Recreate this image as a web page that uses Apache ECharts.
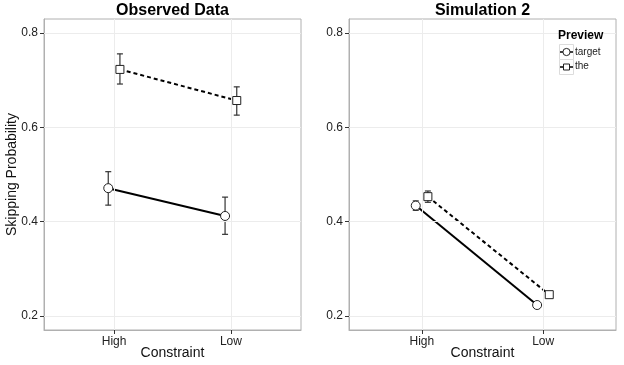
<!DOCTYPE html>
<html><head><meta charset="utf-8">
<script src="https://cdn.jsdelivr.net/npm/echarts@6/dist/echarts.min.js"></script>
<style>html,body{margin:0;padding:0;background:#fff}#c{width:624px;height:365px}</style>
</head><body><div id="c"></div>
<script>
// ---- data ----
const categories = ['High', 'Low'];
const previewNames = ['target', 'the'];
const yTicks = [0.2, 0.4, 0.6, 0.8];
const panelTitles = ['Observed Data', 'Simulation 2'];

// Observed data
const obsTargetMean = [0.471, 0.412];
const obsTargetLo   = [0.435, 0.373];
const obsTargetHi   = [0.506, 0.452];
const obsTheMean    = [0.723, 0.657];
const obsTheLo      = [0.692, 0.626];
const obsTheHi      = [0.756, 0.686];

// Simulation 2
const simTargetMean = [0.434, 0.223];
const simTargetLo   = [0.424, 0.220];
const simTargetHi   = [0.444, 0.226];
const simTheMean    = [0.453, 0.245];
const simTheLo      = [0.441, 0.242];
const simTheHi      = [0.465, 0.248];

// ---- layout/style ----
const DODGE = 0.05;
const FONT = '"Liberation Sans", Arial, sans-serif';
const grids = [
  {left: 44, top: 19, width: 257, height: 311},
  {left: 349, top: 19, width: 267, height: 311}
];

const panels = [
  {target: [obsTargetMean, obsTargetLo, obsTargetHi], the: [obsTheMean, obsTheLo, obsTheHi]},
  {target: [simTargetMean, simTargetLo, simTargetHi], the: [simTheMean, simTheLo, simTheHi]}
];

function pts(mean, off) { return categories.map((c, i) => [i + 1 + off, mean[i]]); }
function errs(arr, off) { return categories.map((c, i) => [i + 1 + off, arr[1][i], arr[2][i]]); }

function renderErr(params, api) {
  const x = api.value(0), lo = api.value(1), hi = api.value(2);
  const a = api.coord([x, hi]), b = api.coord([x, lo]);
  const w = 3;
  const st = {stroke: '#333', lineWidth: 1.2};
  return {type: 'group', children: [
    {type: 'line', shape: {x1: a[0], y1: a[1], x2: b[0], y2: b[1]}, style: st},
    {type: 'line', shape: {x1: a[0] - w, y1: a[1], x2: a[0] + w, y2: a[1]}, style: st},
    {type: 'line', shape: {x1: b[0] - w, y1: b[1], x2: b[0] + w, y2: b[1]}, style: st}
  ]};
}

const xAxes = [], yAxes = [], series = [];
grids.forEach((g, gi) => {
  xAxes.push({
    type: 'value', gridIndex: gi, min: 0.4, max: 2.6,
    splitLine: {show: false},
    axisLine: {show: true, lineStyle: {color: '#b0b0b0'}},
    axisTick: {show: true, customValues: [1, 2], length: 4, lineStyle: {color: '#333'}},
    axisLabel: {customValues: [1, 2], formatter: v => categories[Math.round(v) - 1],
      fontSize: 12, color: '#222', margin: 6, fontFamily: FONT},
    name: 'Constraint', nameLocation: 'middle', nameGap: 16, nameMoveOverlap: false,
    nameTextStyle: {fontSize: 14, color: '#111', fontFamily: FONT}
  });
  yAxes.push({
    type: 'value', gridIndex: gi, min: 0.17, max: 0.83,
    splitLine: {show: false},
    axisLine: {show: true, lineStyle: {color: '#b0b0b0'}},
    axisTick: {show: true, customValues: yTicks, length: 4, lineStyle: {color: '#333'}},
    axisLabel: {customValues: yTicks, formatter: v => v.toFixed(1),
      fontSize: 12, color: '#222', margin: 6, fontFamily: FONT}
  });
  // grid lines
  series.push({
    type: 'line', xAxisIndex: gi, yAxisIndex: gi, data: [], z: 1, silent: true,
    markLine: {silent: true, symbol: 'none', label: {show: false}, animation: false,
      lineStyle: {color: '#ececec', width: 1, type: 'solid'},
      data: yTicks.map(v => ({yAxis: v})).concat(categories.map((c, i) => ({xAxis: i + 1})))}
  });
  const p = panels[gi];
  series.push({type: 'line', name: 'target', xAxisIndex: gi, yAxisIndex: gi, z: 3,
    data: pts(p.target[0], -DODGE), symbol: 'circle', symbolSize: 9, showAllSymbol: true,
    itemStyle: {color: '#fff', borderColor: '#222', borderWidth: 1},
    lineStyle: {color: '#000', width: 2}});
  series.push({type: 'line', name: 'the', xAxisIndex: gi, yAxisIndex: gi, z: 3,
    data: pts(p.the[0], DODGE), symbol: 'rect', symbolSize: 8, showAllSymbol: true,
    itemStyle: {color: '#fff', borderColor: '#222', borderWidth: 1},
    lineStyle: {color: '#000', width: 2, type: [4, 3]}});
  series.push({type: 'custom', name: 'target-err', xAxisIndex: gi, yAxisIndex: gi, z: 2,
    renderItem: renderErr, encode: {x: 0, y: [1, 2]}, data: errs(p.target, -DODGE)});
  series.push({type: 'custom', name: 'the-err', xAxisIndex: gi, yAxisIndex: gi, z: 2,
    renderItem: renderErr, encode: {x: 0, y: [1, 2]}, data: errs(p.the, DODGE)});
});

const graphic = [];
grids.forEach((g, gi) => {
  graphic.push({type: 'text', x: g.left + g.width / 2, y: 11, z: 10,
    style: {text: panelTitles[gi], font: 'bold 16px ' + FONT, fill: '#000',
      textAlign: 'center', textVerticalAlign: 'middle'}});
});
graphic.push({type: 'text', x: 12, y: 174.5, rotation: Math.PI / 2, z: 10,
  style: {text: 'Skipping Probability', font: '14px ' + FONT, fill: '#111',
    textAlign: 'center', textVerticalAlign: 'middle'}});
graphic.push({type: 'text', x: 558, y: 36, z: 10,
  style: {text: 'Preview', font: 'bold 12px ' + FONT, fill: '#000',
    textAlign: 'left', textVerticalAlign: 'middle'}});
// legend keys (box, line stub, marker)
previewNames.forEach((n, i) => {
  const cy = 52 + i * 15;
  graphic.push({type: 'rect', shape: {x: 559.5, y: cy - 7.5, width: 14, height: 15}, z: 10,
    style: {fill: '#fff', stroke: '#dcdcdc', lineWidth: 1}});
  graphic.push({type: 'line', shape: {x1: 560, y1: cy, x2: 573, y2: cy}, z: 11,
    style: {stroke: '#000', lineWidth: 1.5}});
  if (i === 0) {
    graphic.push({type: 'circle', shape: {cx: 566.5, cy: cy, r: 3.6}, z: 12,
      style: {fill: '#fff', stroke: '#222', lineWidth: 1}});
  } else {
    graphic.push({type: 'rect', shape: {x: 563.5, y: cy - 3, width: 6, height: 6}, z: 12,
      style: {fill: '#fff', stroke: '#222', lineWidth: 1}});
  }
});

const chart = echarts.init(document.getElementById('c'), null, {renderer: 'canvas'});
chart.setOption({
  animation: false,
  backgroundColor: '#fff',
  grid: grids.map(g => Object.assign({show: true, borderColor: '#b0b0b0', borderWidth: 1,
    backgroundColor: '#fff', containLabel: false, outerBoundsMode: 'none'}, g)),
  xAxis: xAxes,
  yAxis: yAxes,
  legend: {data: previewNames, orient: 'vertical', left: 560, top: 45, padding: 0,
    itemWidth: 13, itemHeight: 15, itemGap: 0, selectedMode: false,
    itemStyle: {opacity: 0}, lineStyle: {opacity: 0},
    textStyle: {fontSize: 10, color: '#222', fontFamily: FONT, padding: [0, 0, 0, -4]}},
  series: series,
  graphic: graphic
});
</script></body></html>
